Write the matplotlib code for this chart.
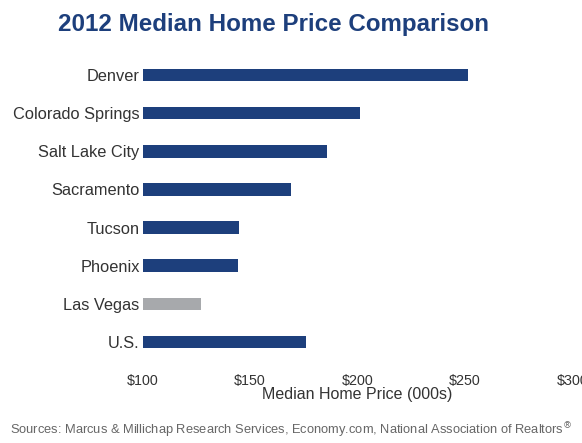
import matplotlib.pyplot as plt
from matplotlib.ticker import FuncFormatter

plt.rcParams['font.family'] = ['Liberation Sans', 'DejaVu Sans']

# Median home prices, thousands of dollars
markets = ['Denver', 'Colorado Springs', 'Salt Lake City', 'Sacramento',
           'Tucson', 'Phoenix', 'Las Vegas', 'U.S.']
prices = [251.5, 201, 186, 169, 145, 144.5, 127, 176]
highlight = 'Las Vegas'

blue = '#1d3f7c'
grey = '#a7a9ac'
colors = [grey if m == highlight else blue for m in markets]

fig = plt.figure(figsize=(5.82, 4.43), dpi=100)
ax = fig.add_axes([142.5 / 582, 1 - 361 / 443, 430 / 582, 305 / 443])

base = 100
ax.barh(markets, [p - base for p in prices], left=base, height=0.33,
        color=colors, edgecolor='none')
ax.set_xlim(100, 300)
ax.set_ylim(len(markets) - 0.5, -0.5)

ax.set_xticks([100, 150, 200, 250, 300])
ax.xaxis.set_major_formatter(FuncFormatter(lambda v, _: f'${v:.0f}'))
ax.tick_params(axis='both', length=0, colors='#333333')
ax.tick_params(axis='x', pad=9, labelsize=10.3)
ax.tick_params(axis='y', pad=2, labelsize=11.8)
for s in ax.spines.values():
    s.set_visible(False)

ax.set_xlabel('Median Home Price (000s)', fontsize=11.5, color='#333333',
              labelpad=0)

fig.text(273 / 582, 1 - 25 / 443, '2012 Median Home Price Comparison',
         ha='center', va='center', fontsize=17.4, fontweight='bold',
         color='#1d3f7c')
fig.text(10 / 582, 1 - 430 / 443,
         'Sources: Marcus & Millichap Research Services, Economy.com, '
         'National Association of Realtors$^{\u00ae}$',
         ha='left', va='center', fontsize=9.3, color='#666666')

fig.savefig('out.png', dpi=100)
